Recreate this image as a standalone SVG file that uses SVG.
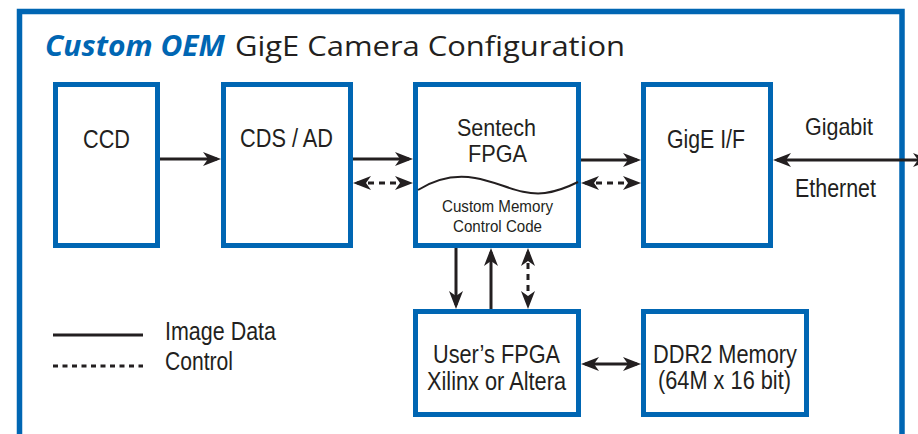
<svg xmlns="http://www.w3.org/2000/svg" width="918" height="434" viewBox="0 0 918 434">
<style>
.box{fill:#ffffff;stroke:#0066b3;stroke-width:5}
.lbl{font-family:"Liberation Sans",Arial,sans-serif;fill:#231f20}
.ln{fill:none;stroke:#231f20;stroke-width:3}
.dash{stroke-dasharray:6 5}
</style>
<defs>
<marker id="ah" markerUnits="userSpaceOnUse" markerWidth="18" markerHeight="14" refX="14" refY="7" orient="auto-start-reverse" viewBox="0 0 18 14">
<path d="M0,0 L18,7 L0,14 L5,7 Z" fill="#231f20"/>
</marker>
</defs>
<rect x="0" y="0" width="918" height="434" fill="#ffffff"/>
<rect x="19.5" y="11.5" width="882.5" height="440" fill="none" stroke="#0066b3" stroke-width="5.5"/>
<g id="title">
<text x="45" y="56" font-family="'Open Sans','Noto Sans',sans-serif" font-size="28" font-weight="bold" font-style="italic" fill="#0066b3" textLength="180" lengthAdjust="spacingAndGlyphs">Custom OEM</text>
<text x="235" y="56" font-family="'Open Sans','Noto Sans',sans-serif" font-size="28" fill="#231f20" textLength="390" lengthAdjust="spacingAndGlyphs">GigE Camera Configuration</text>
</g>
<g id="ccd">
<rect class="box" x="55.5" y="84.5" width="102" height="161"/>
<text class="lbl" x="83" y="148" font-size="25" textLength="47" lengthAdjust="spacingAndGlyphs">CCD</text>
</g>
<g id="cdsad">
<rect class="box" x="223.5" y="84.5" width="127" height="161"/>
<text class="lbl" x="240" y="147" font-size="25" textLength="93" lengthAdjust="spacingAndGlyphs">CDS / AD</text>
</g>
<g id="sentech">
<rect class="box" x="415.5" y="84.5" width="163" height="161"/>
<text class="lbl" x="457" y="136" font-size="24" textLength="79" lengthAdjust="spacingAndGlyphs">Sentech</text>
<text class="lbl" x="468" y="162" font-size="24" textLength="59" lengthAdjust="spacingAndGlyphs">FPGA</text>
<path d="M418,190 C434,180 452,174 475,178 C500,182 520,196 545,193 C560,191 570,186 578,182" fill="none" stroke="#231f20" stroke-width="2"/>
<text class="lbl" x="442" y="212" font-size="16" textLength="111" lengthAdjust="spacingAndGlyphs">Custom Memory</text>
<text class="lbl" x="453" y="232" font-size="16" textLength="89" lengthAdjust="spacingAndGlyphs">Control Code</text>
</g>
<g id="gige">
<rect class="box" x="643.5" y="84.5" width="127" height="161"/>
<text class="lbl" x="667" y="148" font-size="25" textLength="78" lengthAdjust="spacingAndGlyphs">GigE I/F</text>
</g>
<g id="userfpga">
<rect class="box" x="415.5" y="311.5" width="163" height="103"/>
<text class="lbl" x="433" y="363" font-size="25" textLength="127" lengthAdjust="spacingAndGlyphs">User’s FPGA</text>
<text class="lbl" x="427" y="390" font-size="25" textLength="139" lengthAdjust="spacingAndGlyphs">Xilinx or Altera</text>
</g>
<g id="ddr2">
<rect class="box" x="643.5" y="311.5" width="163" height="103"/>
<text class="lbl" x="653" y="363" font-size="25" textLength="144" lengthAdjust="spacingAndGlyphs">DDR2 Memory</text>
<text class="lbl" x="658" y="389" font-size="25" textLength="133" lengthAdjust="spacingAndGlyphs">(64M x 16 bit)</text>
</g>
<g id="ethernet-labels">
<text class="lbl" x="805" y="135" font-size="24" textLength="68" lengthAdjust="spacingAndGlyphs">Gigabit</text>
<text class="lbl" x="795" y="197" font-size="25" textLength="81" lengthAdjust="spacingAndGlyphs">Ethernet</text>
</g>
<g id="connectors">
<path class="ln" d="M160,159 L217,159" marker-end="url(#ah)"/>
<path class="ln" d="M353,159 L409,159" marker-end="url(#ah)"/>
<path class="ln dash" d="M357,183 L409,183" marker-start="url(#ah)" marker-end="url(#ah)"/>
<path class="ln" d="M581,160 L637,160" marker-end="url(#ah)"/>
<path class="ln dash" d="M585,183 L637,183" marker-start="url(#ah)" marker-end="url(#ah)"/>
<path class="ln" d="M777,160 L927,160" marker-start="url(#ah)" marker-end="url(#ah)"/>
<path class="ln" d="M456,248 L456,305" marker-end="url(#ah)"/>
<path class="ln" d="M491,309 L491,252" marker-end="url(#ah)"/>
<path class="ln dash" d="M528,252 L528,305" marker-start="url(#ah)" marker-end="url(#ah)"/>
<path class="ln" d="M585,364 L637,364" marker-start="url(#ah)" marker-end="url(#ah)"/>
</g>
<g id="legend">
<path class="ln" d="M53,335 L143,335"/>
<path class="ln" d="M53,366 L143,366" stroke-dasharray="5 4.5"/>
<text class="lbl" x="165" y="340" font-size="25" textLength="111" lengthAdjust="spacingAndGlyphs">Image Data</text>
<text class="lbl" x="165" y="370" font-size="25" textLength="68" lengthAdjust="spacingAndGlyphs">Control</text>
</g>
</svg>
